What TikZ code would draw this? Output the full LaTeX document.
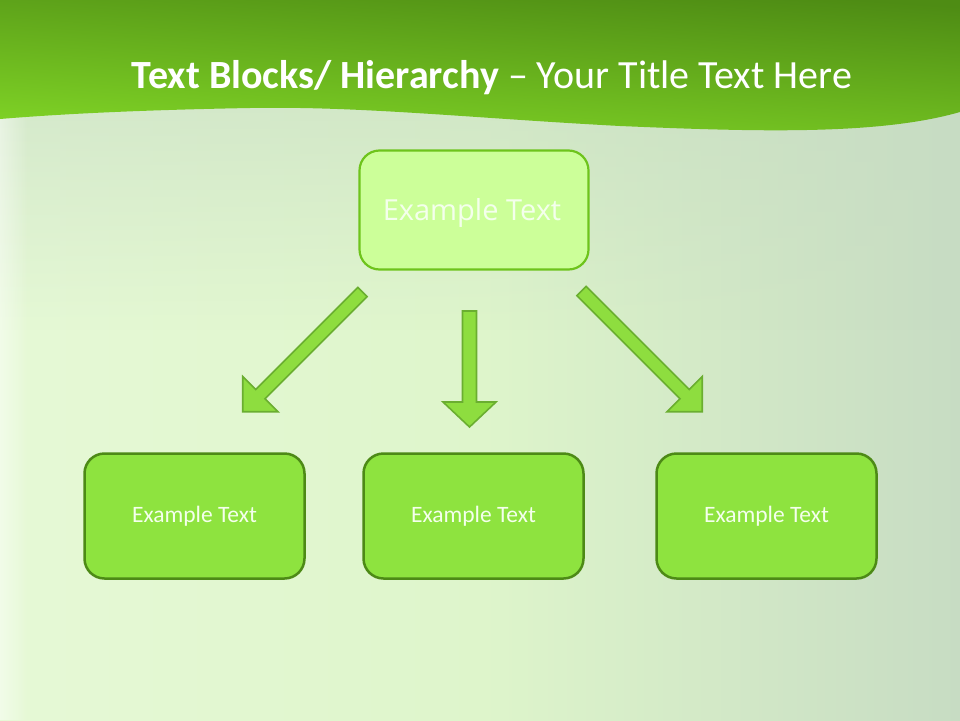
\documentclass[tikz,border=0pt]{standalone}
\usepackage{fontspec}
\setmainfont{Carlito}
\newfontfamily\opensans{Open Sans}
\usetikzlibrary{calc,fadings}
\definecolor{bgL}{HTML}{E6F9D6}
\definecolor{bgM}{HTML}{DEF5CB}
\definecolor{bgR}{HTML}{C7DCC3}
\definecolor{bandTop}{HTML}{4E8C14}
\definecolor{bandBot}{HTML}{80D426}
\definecolor{topFill}{HTML}{CCFF99}
\definecolor{topLine}{HTML}{6EC41C}
\definecolor{boxFill}{HTML}{8EE33F}
\definecolor{boxLine}{HTML}{4D8A16}
\definecolor{arrFill}{HTML}{8EDD3F}
\definecolor{arrLine}{HTML}{6AAE30}
\definecolor{txtW}{HTML}{F4FFEC}
\tikzfading[name=fadedown, top color=transparent!45, bottom color=transparent!100]
\tikzfading[name=fadeleftedge, left color=transparent!55, right color=transparent!100]
\tikzset{
  topbox/.style={draw=topLine, fill=topFill, line width=2.2pt, rounded corners=20pt,
    minimum width=229pt, minimum height=119pt, text=txtW, font=\opensans\fontsize{29}{32}\selectfont},
  lowbox/.style={draw=boxLine, fill=boxFill, line width=2.5pt, rounded corners=20pt,
    minimum width=220pt, minimum height=125pt, text=txtW, font=\fontsize{23.5}{26}\selectfont},
  blockarrow/.style={draw=arrLine, fill=arrFill, line width=1.6pt, line join=miter}
}
\begin{document}
\begin{tikzpicture}[x=1pt,y=-1pt]
\useasboundingbox (0,0) rectangle (960,720);
% background
\shade[left color=bgL, right color=bgR, middle color=bgM] (0,0) rectangle (960,720);
\fill[bgR, path fading=fadedown] (0,100) rectangle (960,330);
\fill[white, path fading=fadeleftedge] (0,0) rectangle (28,720);
% title band
\shade[shading=axis, top color=bandTop, bottom color=bandBot, shading angle=-4]
  (0,0) -- (960,0) -- (960,112)
  .. controls (880,135) and (760,132) .. (620,126)
  .. controls (470,118) and (360,106) .. (250,108)
  .. controls (140,110) and (60,114) .. (0,119) -- cycle;
\node[text=white, font=\fontsize{40}{44}\selectfont, anchor=base] (title) at (492,88)
  {\textbf{Text Blocks/ Hierarchy} – Your Title Text Here};
% boxes
\node[topbox] (top) at (474,210) {};
\node[text=txtW, font=\opensans\fontsize{29}{32}\selectfont, anchor=base] (toptext) at (472,220) {Example Text};
\node[lowbox] (b1) at (194.5,516) {Example Text};
\node[lowbox] (b2) at (473.5,516) {Example Text};
\node[lowbox] (b3) at (766.5,516) {Example Text};
% arrows
\begin{scope}[shift={(362.5,292)}, rotate=-135]
  \def\L{169.4}
  \draw[blockarrow] (0,-6.5) -- (\L-25,-6.5) -- (\L-25,-25) -- (\L,0) -- (\L-25,25) -- (\L-25,6.5) -- (0,6.5) -- cycle;
\end{scope}
\begin{scope}[shift={(469.5,311)}, rotate=-90]
  \def\L{116}
  \draw[blockarrow] (0,-7) -- (\L-25,-7) -- (\L-25,-26.5) -- (\L,0) -- (\L-25,26.5) -- (\L-25,7) -- (0,7) -- cycle;
\end{scope}
\begin{scope}[shift={(581.5,291)}, rotate=-45]
  \def\L{170.8}
  \draw[blockarrow] (0,-6.5) -- (\L-25,-6.5) -- (\L-25,-25) -- (\L,0) -- (\L-25,25) -- (\L-25,6.5) -- (0,6.5) -- cycle;
\end{scope}
\end{tikzpicture}
\end{document}
